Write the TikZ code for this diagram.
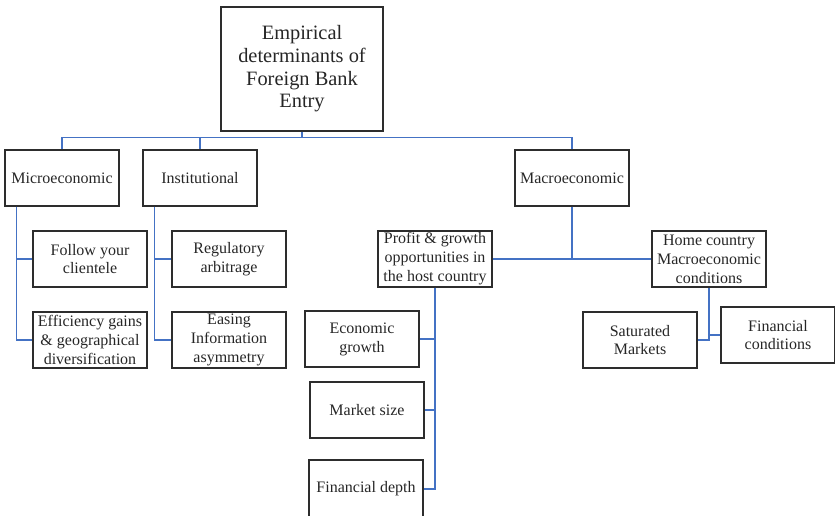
\documentclass[tikz,border=0pt]{standalone}
\usepackage{fontspec}
\setmainfont{Liberation Serif}
\definecolor{linkblue}{RGB}{68,114,196}
\definecolor{boxgray}{RGB}{45,45,45}
\tikzset{
  box/.style={draw=boxgray,text=black!85,line width=0.9pt,align=center,inner sep=0pt,
    minimum width=85.5pt,minimum height=42pt,
    font=\fontsize{12}{14.2}\selectfont},
  link/.style={draw=linkblue,line width=1.1pt}
}
\begin{document}
\begin{tikzpicture}[x=0.75pt,y=-0.75pt]
  \useasboundingbox (0,0) rectangle (835,516);

  \node[box,minimum width=121.5pt,minimum height=93pt,
        font=\fontsize{15.3}{17}\selectfont] (top) at (302,69)
        {Empirical\\determinants of\\Foreign Bank\\Entry};

  \node[box] (micro) at (62,178) {Microeconomic};
  \node[box] (inst)  at (200,178) {Institutional};
  \node[box] (macro) at (572,178) {Macroeconomic};

  \node[box] (follow) at (90,259)  {Follow your\\clientele};
  \node[box] (effic)  at (90,340)  {Efficiency gains\\\& geographical\\diversification};
  \node[box] (regul)  at (229,259) {Regulatory\\arbitrage};
  \node[box] (easing) at (229,340) {Easing\\Information\\asymmetry};

  \node[box] (profit) at (435,259) {Profit \& growth\\opportunities in\\the host country};
  \node[box] (home)   at (709,259) {Home country\\Macroeconomic\\conditions};

  \node[box] (econ)   at (362,339) {Economic\\growth};
  \node[box] (market) at (367,410) {Market size};
  \node[box,minimum height=43.5pt] (depth) at (366,489) {Financial depth};

  \node[box] (satur)  at (640,340) {Saturated\\Markets};
  \node[box] (fincon) at (778,335) {Financial\\conditions};

  % tree connectors
  \draw[link] (top.south) -- ++(0,6) coordinate (bus);
  \draw[link] (bus) -| (micro.north);
  \draw[link] (bus) -| (inst.north);
  \draw[link] (bus) -| (macro.north);

  \draw[link] ([xshift=9pt]micro.south west) |- (follow.west);
  \draw[link] ([xshift=9pt]micro.south west) |- (effic.west);
  \draw[link] ([xshift=9pt]inst.south west) |- (regul.west);
  \draw[link] ([xshift=9pt]inst.south west) |- (easing.west);

  \draw[link] (macro.south) |- (profit.east);
  \draw[link] (macro.south) |- (home.west);

  \draw[link] (profit.south) |- (econ.east);
  \draw[link] (profit.south) |- (market.east);
  \draw[link] (profit.south) |- (depth.east);

  \draw[link] (home.south) |- (satur.east);
  \draw[link] (home.south) |- (fincon.west);
\end{tikzpicture}
\end{document}
